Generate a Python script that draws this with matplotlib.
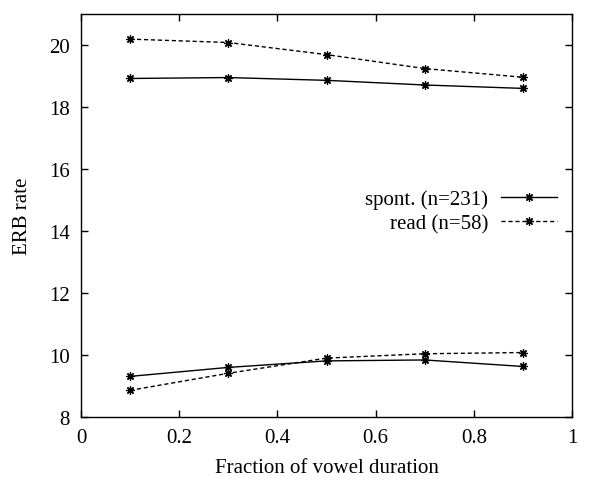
import matplotlib
matplotlib.use("Agg")
import matplotlib.pyplot as plt

# fractions of vowel duration
x = [0.1, 0.3, 0.5, 0.7, 0.9]

# upper and lower ERB-rate tracks
spont_hi = [18.92, 18.95, 18.86, 18.71, 18.60]
spont_lo = [9.31, 9.60, 9.81, 9.84, 9.63]
read_hi = [20.19, 20.08, 19.69, 19.24, 18.96]
read_lo = [8.86, 9.41, 9.90, 10.04, 10.08]

labels = ["spont. (n=231)", "read (n=58)"]

plt.rcParams['font.family'] = ['Liberation Serif', 'DejaVu Serif']
plt.rcParams['font.size'] = 15

fig = plt.figure(figsize=(6.07, 4.81), dpi=100)
ax = fig.add_axes([81/607, 63/481, 491/607, 403/481])

mk = (8, 2, 0)
dash = (0, (3, 2))
ax.plot(x, spont_hi, color='black', lw=1, marker=mk, ms=6, mew=0.9, label=labels[0])
ax.plot(x, spont_lo, color='black', lw=1, marker=mk, ms=6, mew=0.9)
ax.plot(x, read_hi, color='black', lw=1, ls=dash, marker=mk, ms=6, mew=0.9, label=labels[1])
ax.plot(x, read_lo, color='black', lw=1, ls=dash, marker=mk, ms=6, mew=0.9)

ax.set_xlim(0, 1)
ax.set_ylim(8, 21)
ax.set_xticks([0, 0.2, 0.4, 0.6, 0.8, 1])
ax.set_xticklabels(["0", "0.2", "0.4", "0.6", "0.8", "1"])
ax.set_yticks([8, 10, 12, 14, 16, 18, 20])
ax.tick_params(direction='in', top=True, right=True, length=5, width=1, pad=8)
for s in ax.spines.values():
    s.set_linewidth(1)

ax.set_xlabel("Fraction of vowel duration", labelpad=8)
ax.set_ylabel("ERB rate", labelpad=12)

leg = ax.legend(loc='center right', bbox_to_anchor=(0.969, 0.51), frameon=False,
                markerfirst=False, handlelength=2.7, borderpad=0, borderaxespad=0,
                labelspacing=0.2, handletextpad=0.6, fontsize=15)
for t in leg.get_texts():
    t.set_ha('right')

fig.savefig("out.png", dpi=100)
